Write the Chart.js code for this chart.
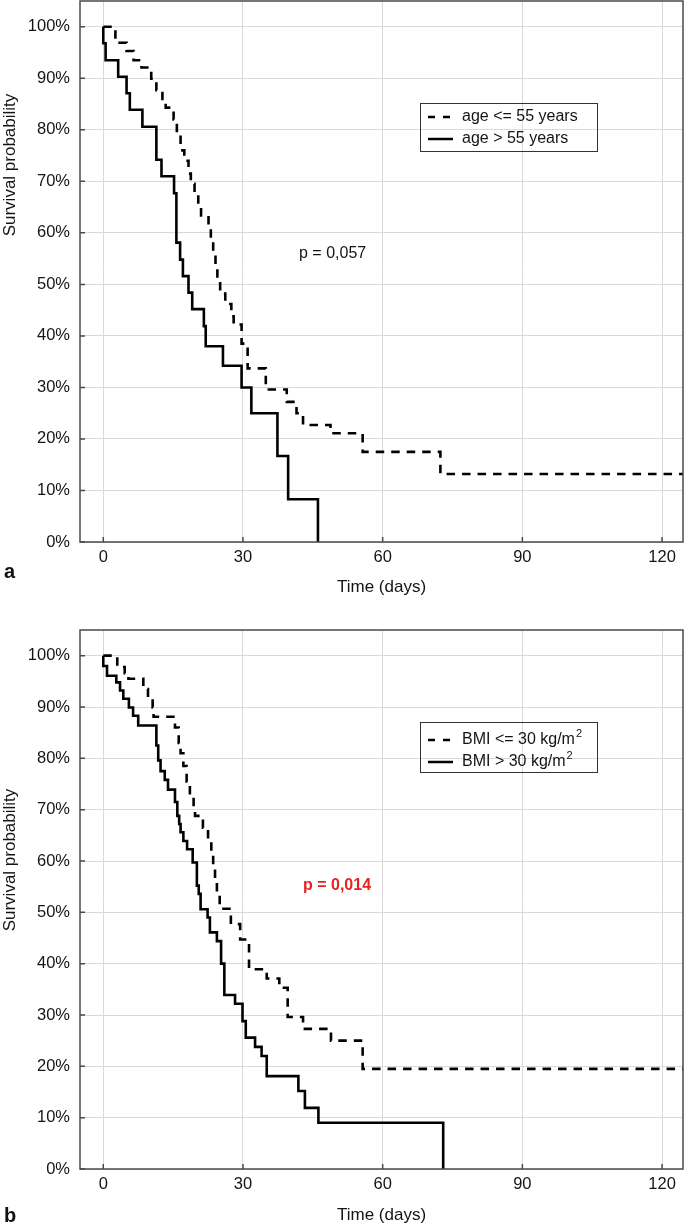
<!DOCTYPE html>
<html>
<head>
<meta charset="utf-8">
<script src="https://cdn.jsdelivr.net/npm/chart.js@4/dist/chart.umd.min.js"></script>
<style>
  body { margin: 0; background: #fff; width: 685px; height: 1226px; overflow: hidden; }
  canvas { position: absolute; left: 0; }
  #chartA { top: 0; }
  #chartB { top: 610px; }
</style>
</head>
<body>
<canvas id="chartA" width="685" height="610"></canvas>
<canvas id="chartB" width="685" height="616"></canvas>
<script>
// ticks
const xTicks = [0, 30, 60, 90, 120];
const yTicks = [0, 10, 20, 30, 40, 50, 60, 70, 80, 90, 100];

// panel a - age groups (time in days, survival % after each step)
const ageLowLabel = 'age <= 55 years';
const ageLowT = [0, 2.6, 5.0, 6.5, 8.2, 10.3, 11.4, 12.7, 13.4, 15.1, 15.8, 16.6, 17.4, 18.3, 18.8, 19.6, 20.4, 21.0, 22.6, 23.1, 23.6, 24.1, 24.5, 25.1, 26.2, 27.5, 28.0, 29.7, 31.0, 34.9, 39.4, 41.5, 42.9, 48.8, 55.7, 72.4, 124.5];
const ageLowS = [100, 96.9, 95.3, 93.5, 92.1, 89.9, 87.7, 86.0, 84.3, 82.0, 79.0, 76.0, 74.0, 71.5, 69.5, 67.5, 65.6, 63.4, 61.2, 58.6, 56.1, 53.5, 50.5, 48.2, 46.2, 43.8, 42.2, 38.5, 33.7, 29.6, 27.2, 25.0, 22.7, 21.1, 17.5, 13.2, 13.2];
const ageHighLabel = 'age > 55 years';
const ageHighT = [0, 0, 0.5, 3.2, 5.0, 5.7, 8.4, 11.4, 12.5, 15.2, 15.7, 16.5, 17.1, 18.3, 19.1, 21.6, 22.0, 25.7, 29.7, 31.8, 37.4, 39.7, 46.1];
const ageHighS = [100, 96.8, 93.5, 90.3, 87.1, 83.9, 80.6, 74.2, 71.0, 67.7, 58.1, 54.8, 51.6, 48.4, 45.2, 41.9, 38.0, 34.2, 30.0, 25.0, 16.7, 8.3, 0];
const pA = 'p = 0,057';

// panel b - BMI groups
const bmiLowLabel = ['BMI <= 30 kg/m', '2'];
const bmiLowT = [0, 3.0, 4.6, 5.4, 8.6, 9.6, 10.6, 10.8, 15.4, 16.2, 16.6, 17.2, 17.9, 18.6, 19.4, 19.7, 21.4, 22.5, 23.2, 23.6, 24.0, 24.4, 25.0, 27.4, 29.4, 31.3, 35.1, 37.8, 39.6, 42.9, 48.9, 55.7, 124.5];
const bmiLowS = [100, 97.8, 96.6, 95.5, 93.5, 91.8, 89.9, 88.1, 86.0, 83.0, 81.0, 78.5, 75.5, 72.5, 70.5, 68.8, 66.5, 64.0, 61.5, 58.5, 56.0, 53.5, 50.7, 47.7, 44.7, 38.9, 37.1, 35.3, 29.6, 27.3, 25.0, 19.5, 19.5];
const bmiHighLabel = ['BMI > 30 kg/m', '2'];
const bmiHighT = [0, 0, 0.8, 2.8, 3.6, 4.3, 5.5, 6.4, 7.5, 11.4, 11.8, 12.3, 13.2, 13.9, 15.4, 15.9, 16.3, 16.6, 17.2, 18.0, 19.2, 20.1, 20.5, 20.9, 22.4, 22.9, 24.4, 25.3, 26.0, 28.3, 29.9, 30.6, 32.6, 34.0, 35.1, 41.9, 43.3, 46.2, 73.0];
const bmiHighS = [100, 98.0, 96.1, 94.8, 93.2, 91.6, 89.9, 88.3, 86.4, 82.5, 79.6, 77.5, 75.8, 73.9, 71.5, 68.8, 67.2, 65.6, 63.9, 62.3, 59.7, 55.2, 53.6, 50.6, 49.0, 46.1, 44.4, 40.0, 33.9, 32.2, 28.8, 25.6, 23.8, 22.0, 18.1, 15.2, 11.9, 9.0, 0];
const pB = 'p = 0,014';

const FONT = "'Liberation Sans', Arial, sans-serif";
Chart.defaults.font.family = FONT;
Chart.defaults.font.size = 16;
Chart.defaults.color = '#141414';

const DASH = [8.5, 7];

// frame, inward ticks, y title, legend box, p value, panel letter
const decor = {
  id: 'decor',
  afterDraw(chart, args, o) {
    const { ctx, chartArea: a, scales: { x, y } } = chart;
    ctx.save();
    ctx.strokeStyle = '#4a4a4a';
    ctx.lineWidth = 1.5;
    ctx.strokeRect(a.left, a.top, a.right - a.left, a.bottom - a.top);
    ctx.beginPath();
    xTicks.forEach(v => { const px = x.getPixelForValue(v); ctx.moveTo(px, a.bottom); ctx.lineTo(px, a.bottom - 5); });
    yTicks.forEach(v => { const py = y.getPixelForValue(v); ctx.moveTo(a.left, py); ctx.lineTo(a.left + 5, py); });
    ctx.stroke();

    // y title
    ctx.fillStyle = '#141414';
    ctx.font = '17px ' + FONT;
    ctx.textAlign = 'center';
    ctx.textBaseline = 'middle';
    ctx.save();
    ctx.translate(10, o.yTitleY);
    ctx.rotate(-Math.PI / 2);
    ctx.fillText('Survival probability', 0, 0);
    ctx.restore();

    // legend
    const L = o.legend;
    ctx.strokeStyle = '#333';
    ctx.lineWidth = 1;
    ctx.strokeRect(L.x + 0.5, L.y + 0.5, L.w, L.h);
    ctx.textAlign = 'left';
    L.items.forEach((it, i) => {
      const ry = L.y + L.row0 + i * L.step;
      ctx.strokeStyle = '#000';
      ctx.lineWidth = 2.5;
      ctx.setLineDash(it.dash ? [7, 8] : []);
      ctx.beginPath();
      ctx.moveTo(L.x + 8, ry);
      ctx.lineTo(L.x + 33, ry);
      ctx.stroke();
      ctx.setLineDash([]);
      const text = Array.isArray(it.text) ? it.text : [it.text];
      ctx.font = '16px ' + FONT;
      ctx.fillStyle = '#141414';
      ctx.fillText(text[0], L.x + 42, ry);
      if (text[1]) {
        const w = ctx.measureText(text[0]).width;
        ctx.font = '11px ' + FONT;
        ctx.fillText(text[1], L.x + 42 + w + 1, ry - 6);
      }
    });

    // p value
    ctx.font = o.p.font;
    ctx.fillStyle = o.p.color;
    ctx.fillText(o.p.text, o.p.x, o.p.y);

    // panel letter
    ctx.font = 'bold 20px ' + FONT;
    ctx.fillStyle = '#111';
    ctx.fillText(o.panel, 4, o.panelY);
    ctx.restore();
  }
};

function points(T, S) {
  return T.map((t, i) => ({ x: t, y: S[i] }));
}

function survChart(id, series, extra) {
  return new Chart(document.getElementById(id), {
    type: 'line',
    data: {
      datasets: series.map(s => ({
        data: points(s.t, s.s),
        stepped: 'before',
        borderColor: '#000',
        borderWidth: 2.6,
        borderDash: s.dash ? DASH : [],
        pointRadius: 0,
        fill: false
      }))
    },
    options: {
      responsive: false,
      animation: false,
      devicePixelRatio: 1,
      layout: { padding: { top: extra.top, right: 2, left: 0, bottom: 0 } },
      plugins: { legend: { display: false }, tooltip: { enabled: false }, decor: extra.decor },
      scales: {
        x: {
          type: 'linear', min: -5, max: 124.5,
          afterBuildTicks: s => { s.ticks = xTicks.map(v => ({ value: v })); },
          afterFit: s => { s.height = extra.xHeight; s.paddingLeft = 0; s.paddingRight = 0; },
          grid: { color: '#d9d9d9', lineWidth: 1, drawTicks: false },
          border: { display: false },
          ticks: { padding: 6, font: { size: 16.5 } },
          title: { display: true, text: 'Time (days)', font: { size: 17 }, padding: { top: 0, bottom: extra.titlePad } }
        },
        y: {
          type: 'linear', min: 0, max: 105,
          afterBuildTicks: s => { s.ticks = yTicks.map(v => ({ value: v })); },
          afterFit: s => { s.width = 80; s.paddingTop = 0; s.paddingBottom = 0; },
          grid: { color: '#d9d9d9', lineWidth: 1, drawTicks: false },
          border: { display: false },
          ticks: { padding: 10, font: { size: 16.5 }, callback: v => v + '%' }
        }
      }
    },
    plugins: [decor]
  });
}

survChart('chartA', [
  { t: ageLowT, s: ageLowS, dash: true },
  { t: ageHighT, s: ageHighS, dash: false }
], {
  top: 1, xHeight: 68, titlePad: 12,
  decor: {
    yTitleY: 165,
    legend: { x: 420, y: 103, w: 177, h: 48, row0: 14, step: 22,
      items: [{ text: ageLowLabel, dash: true }, { text: ageHighLabel, dash: false }] },
    p: { text: pA, x: 299, y: 254, font: '16px ' + FONT, color: '#141414' },
    panel: 'a', panelY: 572
  }
});

survChart('chartB', [
  { t: bmiLowT, s: bmiLowS, dash: true },
  { t: bmiHighT, s: bmiHighS, dash: false }
], {
  top: 20, xHeight: 57, titlePad: 0,
  decor: {
    yTitleY: 250,
    legend: { x: 420, y: 112, w: 177, h: 50, row0: 18, step: 22,
      items: [{ text: bmiLowLabel, dash: true }, { text: bmiHighLabel, dash: false }] },
    p: { text: pB, x: 303, y: 276, font: 'bold 16px ' + FONT, color: '#e8231f' },
    panel: 'b', panelY: 606
  }
});
</script>
</body>
</html>
